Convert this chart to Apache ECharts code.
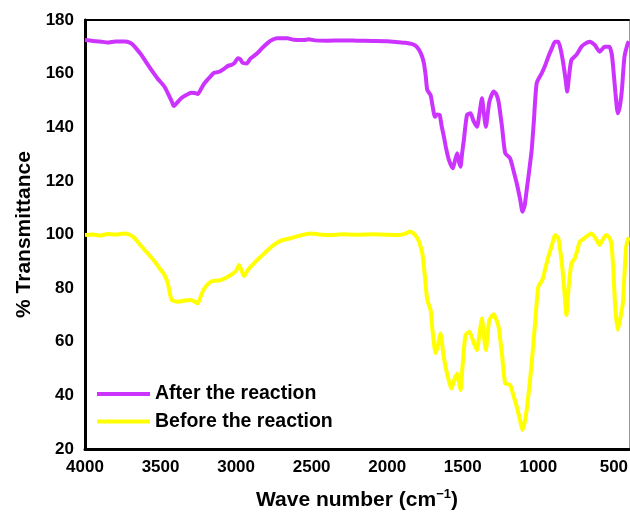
<!DOCTYPE html>
<html>
<head>
<meta charset="utf-8">
<script src="https://cdn.jsdelivr.net/npm/echarts@6/dist/echarts.min.js"></script>
<style>
html,body{margin:0;padding:0;background:#fff;}
#chart{width:630px;height:512px;}
</style>
</head>
<body>
<div id="chart"></div>
<script>
// ---- Data ----
const seriesNames = ['After the reaction', 'Before the reaction'];

const afterWn = [4000,3950,3900,3850,3800,3737,3700,3682,3650,3627,3590,3561,3520,3474,3441,3425,3412,3390,3364,3330,3298,3275,3254,3230,3210,3175,3145,3112,3080,3057,3030,3013,2987,2970,2959,2930,2904,2860,2830,2794,2760,2728,2662,2618,2550,2520,2480,2400,2300,2200,2100,2000,1921,1880,1834,1810,1789,1770,1757,1745,1735,1713,1700,1684,1670,1653,1640,1625,1610,1592,1566,1552,1537,1525,1515,1505,1493,1472,1449,1430,1406,1390,1373,1360,1347,1335,1324,1296,1280,1263,1240,1219,1187,1165,1143,1120,1105,1090,1077,1060,1044,1030,1011,978,955,934,910,890,868,850,835,820,809,795,781,748,715,690,660,627,594,561,529,515,507,490,474,460,447,430,408,400];
const afterT = [172.5,172.2,172.0,171.6,172.0,172.0,171.5,170.7,168.6,167.0,163.8,161.4,158.2,155.1,151.4,149.5,147.9,149.2,150.8,152.0,152.9,152.8,152.4,154.5,156.4,158.6,160.3,160.7,161.8,162.8,163.3,163.8,165.7,165.2,164.1,163.8,165.7,167.6,169.4,171.3,172.6,173.2,173.2,172.6,172.5,172.8,172.4,172.3,172.4,172.3,172.2,172.1,171.7,171.5,171.0,170.3,168.8,166.5,163.8,159.0,153.9,152.0,148.0,143.9,144.8,144.6,140.5,136.5,132.0,127.8,124.7,127.5,130.3,127.0,125.3,130.0,135.2,144.6,145.2,142.5,140.2,145.0,150.8,145.0,140.2,145.0,149.5,153.3,152.5,149.5,140.0,130.3,128.4,124.0,119.1,113.0,108.5,111.0,116.6,124.0,131.5,142.0,156.4,160.1,163.0,166.3,169.5,171.9,171.9,168.5,163.8,158.0,153.3,160.0,165.1,167.0,170.0,171.2,171.9,170.7,168.2,170.0,170.0,167.5,163.8,153.0,145.2,148.0,153.9,166.3,171.3,172.0];

const beforeWn = [4000,3950,3900,3850,3800,3737,3700,3671,3640,3605,3570,3539,3505,3474,3452,3440,3426,3386,3340,3298,3275,3254,3230,3210,3167,3130,3101,3070,3035,3000,2980,2960,2947,2925,2903,2870,2837,2790,2750,2700,2640,2580,2509,2450,2377,2300,2200,2100,2000,1921,1880,1855,1830,1800,1785,1768,1750,1735,1713,1700,1680,1665,1647,1630,1614,1590,1575,1555,1537,1525,1515,1500,1482,1456,1430,1406,1390,1373,1360,1347,1335,1324,1296,1280,1263,1240,1219,1187,1165,1143,1120,1105,1090,1077,1060,1044,1020,1000,974,955,934,910,890,868,855,842,828,814,800,781,759,740,726,700,682,649,620,594,570,550,530,517,505,490,474,460,441,430,419,408,400];
const beforeT = [99.8,100.0,99.6,100.2,100.0,100.4,99.8,98.6,96.5,94.2,92.0,89.9,87.3,84.9,81.8,78.5,75.6,74.9,75.4,75.6,75.0,74.3,77.5,79.9,82.4,82.8,83.0,83.8,84.9,86.5,88.6,86.0,84.5,86.5,88.0,90.0,91.7,94.2,96.1,97.8,98.6,99.6,100.4,100.0,99.8,100.1,99.9,100.1,99.9,99.8,100.3,101.0,100.6,98.6,96.5,93.0,84.0,75.6,71.8,64.0,55.7,58.5,63.1,56.0,50.7,45.0,42.6,46.0,48.2,45.0,42.0,52.0,62.5,63.7,60.0,56.9,63.0,68.7,62.0,56.9,63.0,68.1,70.3,68.5,65.6,55.0,44.5,43.9,40.0,35.8,30.5,27.1,30.0,34.6,43.0,52.0,68.0,80.5,83.0,87.0,91.7,96.0,99.8,98.6,94.0,88.0,79.0,70.0,80.0,89.2,91.1,94.5,97.3,98.4,99.2,100.4,98.5,96.1,98.5,99.8,98.8,96.7,88.0,72.0,64.4,68.0,74.3,85.0,95.4,98.0,99.0];

const xMin = 400, xMax = 4000, xLabelStep = 500;
const yMin = 20, yMax = 180, yStep = 20;
const xTitle = 'Wave number (cm{sup|\u22121})';
const yTitle = '% Transmittance';

// ---- Build ----
const pairs = (xs, ys) => xs.map((x, i) => [x, ys[i]]);
const FONT = '"Liberation Sans", Arial, sans-serif';
const chart = echarts.init(document.getElementById('chart'), null, {renderer: 'canvas'});

chart.setOption({
  animation: false,
  backgroundColor: '#ffffff',
  grid: {left: 85, right: 1, top: 20, bottom: 63, containLabel: false, outerBoundsMode: 'none'},
  legend: {
    data: seriesNames,
    orient: 'vertical',
    left: 97,
    top: 383,
    padding: 0,
    icon: 'rect',
    itemWidth: 53,
    itemHeight: 4,
    itemGap: 5.5,
    textStyle: {fontFamily: FONT, fontSize: 19.5, fontWeight: 'bold', color: '#000', lineHeight: 22}
  },
  xAxis: [{
    type: 'value',
    inverse: true,
    min: xMin, max: xMax, interval: 100,
    name: xTitle,
    nameLocation: 'middle',
    nameGap: 39,
    nameTextStyle: {
      fontFamily: FONT, fontSize: 21, fontWeight: 'bold', color: '#000',
      rich: {sup: {fontFamily: FONT, fontSize: 13, fontWeight: 'bold', color: '#000', padding: [0, 0, 11, 0]}}
    },
    axisLine: {show: true, onZero: false, lineStyle: {color: '#000', width: 3}},
    axisTick: {show: false},
    splitLine: {show: false},
    axisLabel: {
      fontFamily: FONT, fontSize: 17, fontWeight: 'bold', color: '#000', margin: 10,
      formatter: v => (v % xLabelStep === 0 ? String(v) : '')
    }
  }, {
    type: 'value', position: 'top', inverse: true,
    min: xMin, max: xMax,
    axisLine: {show: true, onZero: false, lineStyle: {color: '#000', width: 2}},
    axisTick: {show: false}, axisLabel: {show: false}, splitLine: {show: false}
  }],
  yAxis: [{
    type: 'value',
    min: yMin, max: yMax, interval: yStep,
    name: yTitle,
    nameLocation: 'middle',
    nameRotate: 90,
    nameGap: 49,
    nameTextStyle: {fontFamily: FONT, fontSize: 21, fontWeight: 'bold', color: '#000'},
    axisLine: {show: true, onZero: false, lineStyle: {color: '#000', width: 3}},
    axisTick: {show: false},
    splitLine: {show: false},
    axisLabel: {fontFamily: FONT, fontSize: 17, fontWeight: 'bold', color: '#000', margin: 11}
  }, {
    type: 'value', position: 'right',
    min: yMin, max: yMax,
    axisLine: {show: true, onZero: false, lineStyle: {color: '#999', width: 1}},
    axisTick: {show: false}, axisLabel: {show: false}, splitLine: {show: false}
  }],
  series: [{
    name: seriesNames[0],
    type: 'line',
    data: pairs(afterWn, afterT),
    showSymbol: false,
    symbol: 'none',
    lineStyle: {color: '#cc33ff', width: 4},
    itemStyle: {color: '#cc33ff'},
    smooth: 0.2
  }, {
    name: seriesNames[1],
    type: 'line',
    data: pairs(beforeWn, beforeT),
    showSymbol: false,
    symbol: 'none',
    lineStyle: {color: '#ffff00', width: 4},
    itemStyle: {color: '#ffff00'},
    smooth: 0.2
  }]
});
</script>
</body>
</html>
